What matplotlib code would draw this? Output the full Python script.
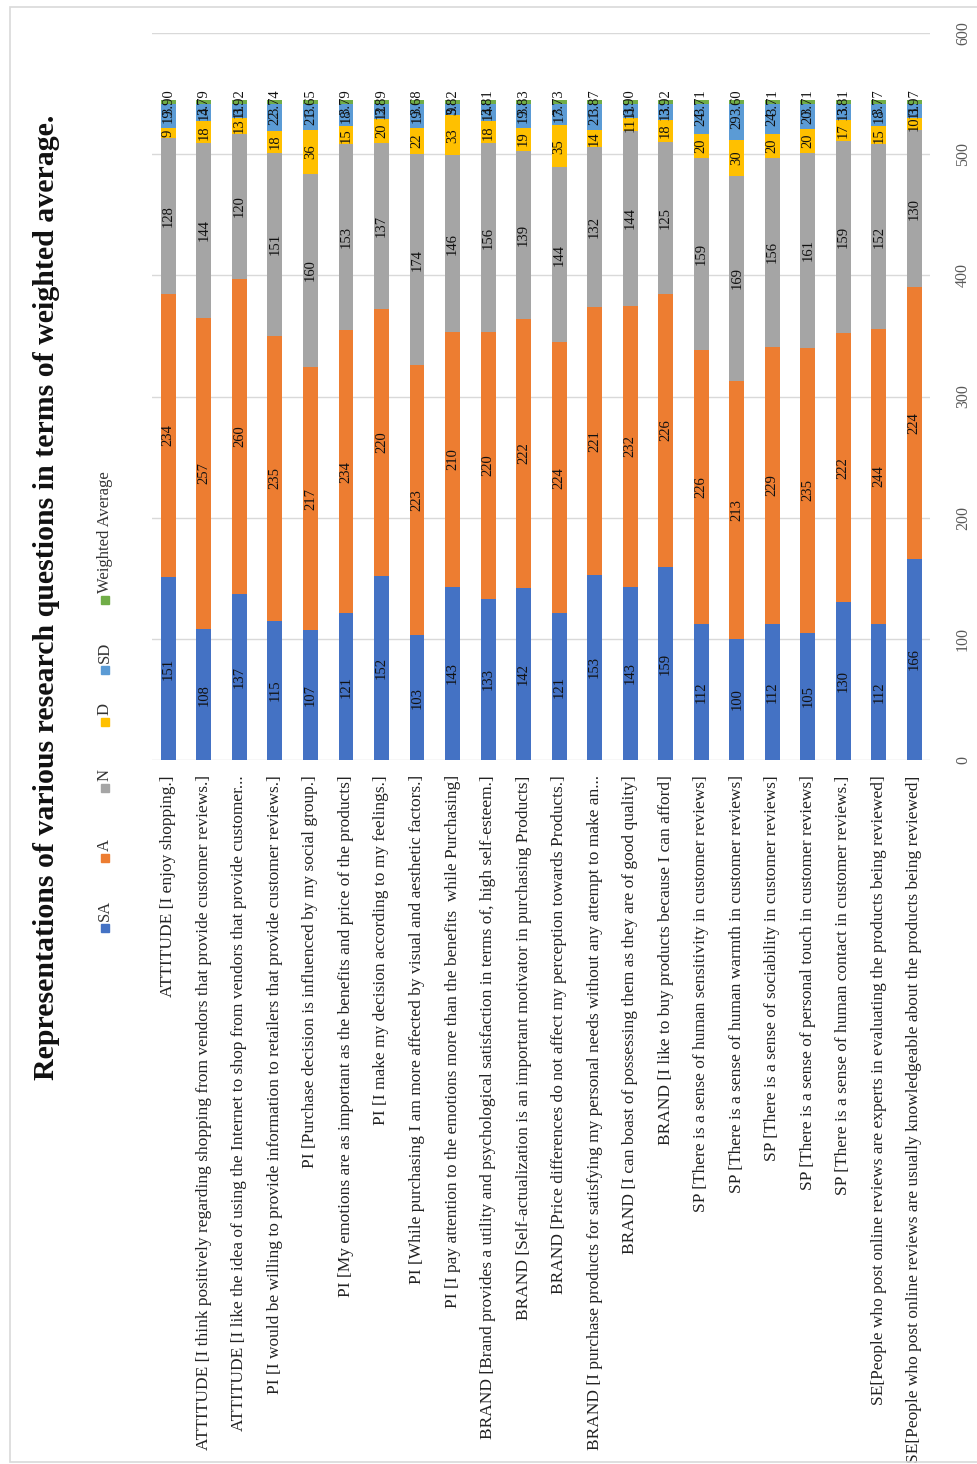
import numpy as np
import matplotlib
matplotlib.use('Agg')
import matplotlib.pyplot as plt
from matplotlib.patches import Rectangle
from matplotlib.transforms import ScaledTranslation

plt.rcParams['font.family'] = ['Liberation Serif', 'DejaVu Serif']

# survey questions (in chart order)
questions = [
    'ATTITUDE [I enjoy shopping.]',
    'ATTITUDE [I think positively regarding shopping from vendors that provide customer reviews.]',
    'ATTITUDE [I like the idea of using the Internet to shop from vendors that provide customer...',
    'PI [I would be willing to provide information to retailers that provide customer reviews.]',
    'PI [Purchase decision is influenced by my social group.]',
    'PI [My emotions are as important as the benefits and price of the products]',
    'PI [I make my decision according to my feelings.]',
    'PI [While purchasing I am more affected by visual and aesthetic factors.]',
    'PI [I pay attention to the emotions more than the benefits  while Purchasing]',
    'BRAND [Brand provides a utility and psychological satisfaction in terms of, high self-esteem.]',
    'BRAND [Self-actualization is an important motivator in purchasing Products]',
    'BRAND [Price differences do not affect my perception towards Products.]',
    'BRAND [I purchase products for satisfying my personal needs without any attempt to make an...',
    'BRAND [I can boast of possessing them as they are of good quality]',
    'BRAND [I like to buy products because I can afford]',
    'SP [There is a sense of human sensitivity in customer reviews]',
    'SP [There is a sense of human warmth in customer reviews]',
    'SP [There is a sense of sociability in customer reviews]',
    'SP [There is a sense of personal touch in customer reviews]',
    'SP [There is a sense of human contact in customer reviews.]',
    'SE[People who post online reviews are experts in evaluating the products being reviewed]',
    'SE[People who post online reviews are usually knowledgeable about the products being reviewed]',
]

# responses per question
sa = [151, 108, 137, 115, 107, 121, 152, 103, 143, 133, 142, 121, 153, 143, 159, 112, 100, 112, 105, 130, 112, 166]
a = [234, 257, 260, 235, 217, 234, 220, 223, 210, 220, 222, 224, 221, 232, 226, 226, 213, 229, 235, 222, 244, 224]
n = [128, 144, 120, 151, 160, 153, 137, 174, 146, 156, 139, 144, 132, 144, 125, 159, 169, 156, 161, 159, 152, 130]
d = [9, 18, 13, 18, 36, 15, 20, 22, 33, 18, 19, 35, 14, 11, 18, 20, 30, 20, 20, 17, 15, 10]
sd = [19, 14, 11, 22, 21, 18, 12, 19, 9, 14, 19, 17, 21, 11, 13, 24, 29, 24, 20, 13, 18, 11]
wavg = [3.90, 3.79, 3.92, 3.74, 3.65, 3.79, 3.89, 3.68, 3.82, 3.81, 3.83, 3.73, 3.87, 3.90, 3.92,
        3.71, 3.60, 3.71, 3.71, 3.81, 3.77, 3.97]

series = [('SA', sa, '#4472C4'), ('A', a, '#ED7D31'), ('N', n, '#A5A5A5'),
          ('D', d, '#FFC000'), ('SD', sd, '#5B9BD5'), ('Weighted Average', wavg, '#70AD47')]

W, H = 978, 1464
fig = plt.figure(figsize=(W / 100, H / 100), dpi=100)

# chart border
fig.patches.append(Rectangle((10 / W, 2 / H), (W - 10) / W, (H - 9) / H, transform=fig.transFigure,
                             fill=False, edgecolor='#D9D9D9', lw=1.2))

ax = fig.add_axes([152 / W, 1 - 760 / H, (930 - 152) / W, (760 - 33) / H])
x = np.arange(len(questions))
bottom = np.zeros(len(questions))
for name, vals, col in series:
    vals = np.array(vals, dtype=float)
    ax.bar(x, vals, 0.42, bottom=bottom, color=col, zorder=2)
    for xi, b, v in zip(x, bottom, vals):
        lab = f'{v:.2f}' if name == 'Weighted Average' else f'{int(v)}'
        ax.text(xi, b + v / 2, lab, rotation=90, ha='center', va='center', fontsize=10.5,
                color='#111111', zorder=3)
    bottom += vals

ax.set_xlim(-0.46, 21.44)
ax.set_ylim(0, 600)
ax.set_xticks(x)
ax.set_xticklabels(questions, rotation=90, fontsize=12.5, color='#222222')
off = ScaledTranslation(5 / 100, 0, fig.dpi_scale_trans)
for lbl in ax.get_xticklabels():
    lbl.set_transform(lbl.get_transform() + off)
ax.yaxis.tick_right()
ax.set_yticks(range(0, 601, 100))
ax.set_yticklabels([str(v) for v in range(0, 601, 100)], rotation=90, va='center',
                   fontsize=11.5, color='#595959')
ax.tick_params(axis='both', length=0)
ax.tick_params(axis='x', pad=11)
ax.tick_params(axis='y', pad=18)
for s in ax.spines.values():
    s.set_visible(False)
ax.yaxis.grid(True, color='#D9D9D9', lw=1)
ax.set_axisbelow(True)

# title
fig.text(47 / W, 1 - 597 / H, 'Representations of various research questions in terms of weighted average.',
         rotation=90, ha='center', va='center', fontsize=21.5, fontweight='bold', color='#111111')

# legend, drawn upward from the bottom
marker_y = [928, 858, 788, 722, 670, 600]
for (name, vals, col), my in zip(series, marker_y):
    fig.patches.append(Rectangle(((105 - 4) / W, 1 - (my + 4) / H), 8 / W, 8 / H,
                                 transform=fig.transFigure, color=col))
    fig.text(105 / W, 1 - (my - 7) / H, name, rotation=90, ha='center', va='bottom',
             fontsize=12, color='#333333')

fig.savefig('out.png', dpi=100)
